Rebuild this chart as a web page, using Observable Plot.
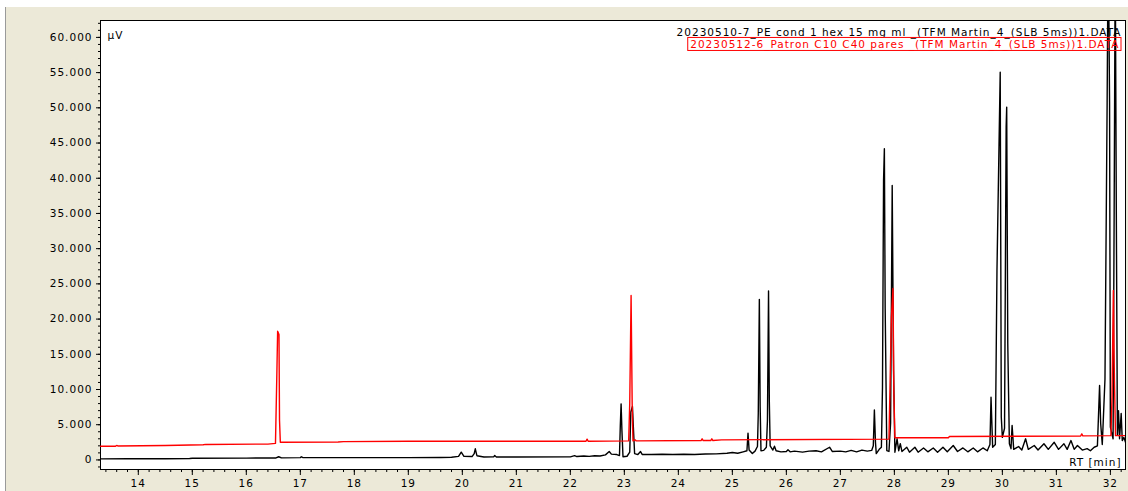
<!DOCTYPE html>
<html>
<head>
<meta charset="utf-8">
<script src="https://cdn.jsdelivr.net/npm/d3@7"></script>
<script src="https://cdn.jsdelivr.net/npm/@observablehq/plot@0.6"></script>
<style>
  html, body { margin: 0; padding: 0; width: 1128px; height: 491px; overflow: hidden; background: #ffffff; }
  #panel { position: absolute; left: 5px; top: 7px; right: 0; bottom: 0; background: #ECE9D8; border-left: 1px solid #9a9a9a; }
  #chart { position: absolute; left: 0; top: 0; }
</style>
</head>
<body>
<div id="panel"></div>
<div id="chart"></div>
<script>
// Sample chromatogram: 20230510-7 (black trace)
const sampleName = "20230510-7_PE cond 1 hex 15 mg ml _(TFM Martin_4_(SLB 5ms))1.DATA";
const sampleTime = [
  13.30, 13.80, 14.50, 14.95, 15.00, 16.00, 16.55, 16.60, 16.65, 17.00, 17.02, 17.05, 18.00, 19.00,
  19.60, 19.80, 19.93, 19.98, 20.03, 20.18, 20.22, 20.24, 20.27, 20.40, 20.58, 20.60, 20.63, 21.00,
  22.00, 22.08, 22.12, 22.25, 22.35, 22.45, 22.55, 22.65, 22.72, 22.76, 22.86, 22.91, 22.925, 22.94,
  22.955, 22.975, 23.05, 23.10, 23.12, 23.15, 23.165, 23.19, 23.25, 23.30, 23.33, 23.50, 23.70, 23.90,
  24.10, 24.30, 24.50, 24.70, 24.90, 25.00, 25.10, 25.20, 25.27, 25.29, 25.31, 25.37, 25.42, 25.465,
  25.48, 25.50, 25.515, 25.53, 25.58, 25.63, 25.65, 25.67, 25.685, 25.70, 25.75, 25.78, 25.81, 25.90,
  26.00, 26.03, 26.07, 26.15, 26.30, 26.42, 26.55, 26.65, 26.80, 26.85, 27.00, 27.10, 27.20, 27.30,
  27.40, 27.50, 27.58, 27.61, 27.63, 27.65, 27.665, 27.72, 27.76, 27.78, 27.80, 27.815, 27.83, 27.86,
  27.90, 27.93, 27.96, 27.985, 28.01, 28.05, 28.08, 28.11, 28.14, 28.23, 28.28, 28.38, 28.44, 28.54,
  28.62, 28.72, 28.80, 28.90, 28.98, 29.09, 29.17, 29.27, 29.36, 29.46, 29.54, 29.64, 29.72, 29.77,
  29.79, 29.82, 29.87, 29.90, 29.96, 29.98, 30.00, 30.04, 30.07, 30.08, 30.10, 30.13, 30.16, 30.18,
  30.21, 30.30, 30.36, 30.43, 30.48, 30.59, 30.66, 30.77, 30.85, 30.96, 31.04, 31.14, 31.20, 31.27,
  31.33, 31.39, 31.48, 31.57, 31.63, 31.70, 31.76, 31.80, 31.82, 31.85, 31.90, 31.94, 31.96, 31.985,
  32.00, 32.05, 32.07, 32.09, 32.11, 32.13, 32.15, 32.17, 32.20, 32.22, 32.25, 32.28
];
const sampleSignal = [
  150, 160, 170, 200, 230, 260, 280, 450, 290, 330, 450, 320, 320, 330,
  350, 380, 500, 1100, 500, 480, 900, 1580, 600, 420, 430, 620, 420, 420,
  430, 600, 480, 560, 500, 600, 560, 720, 1190, 820, 760, 620, 4800, 7960,
  4200, 450, 520, 1100, 6800, 7580, 5000, 900, 760, 1190, 780, 760, 800, 760,
  800, 780, 840, 860, 950, 1050, 950, 1150, 1300, 3800, 1400, 900, 1250, 1900,
  6600, 22800, 7500, 1300, 1350, 1800, 5600, 24000, 8200, 2000, 1400, 1950, 1300, 1150,
  1200, 1430, 1150, 1250, 1100, 1250, 1300, 1150, 1800, 1200, 1250, 1150, 1350, 1150,
  1400, 1250, 1350, 2000, 7100, 2500, 900, 1500, 1800, 10300, 39700, 44200, 21500, 1330,
  1200, 5200, 38970, 12700, 1100, 3000, 1300, 2300, 1200, 1800, 1100, 1800, 1100, 1700,
  1150, 1700, 1100, 1800, 1150, 2050, 1200, 1700, 1150, 1700, 1150, 1700, 1300, 2200,
  8900, 1800, 2200, 26900, 55050, 6070, 3200, 4500, 47260, 50100, 16500, 2300, 1600, 4900,
  1500, 1900, 1400, 3000, 1500, 2050, 1400, 2300, 1500, 2500, 1500, 2300, 1500, 2750,
  1500, 2050, 1400, 1600, 1300, 1800, 2000, 10560, 5200, 2200, 11500, 50800, 75000, 50800,
  4650, 3000, 35200, 72000, 35200, 3500, 7000, 3000, 6600, 2750, 3200, 2500
];

// Reference standard: 20230512-6, even n-alkanes C10–C40 (red trace)
const standardName = "20230512-6_Patron C10 C40 pares _(TFM Martin_4_(SLB 5ms))1.DATA";
const standardTime = [
  13.30, 13.58, 13.60, 13.62, 14.50, 15.20, 15.25, 16.40, 16.54, 16.565, 16.58, 16.605, 16.615, 16.63,
  17.70, 17.80, 19.00, 22.29, 22.31, 22.33, 23.08, 23.10, 23.125, 23.145, 23.16, 23.20, 23.22,
  24.42, 24.44, 24.46, 24.60, 24.62, 24.64, 24.80, 27.90, 27.945, 27.975, 27.99, 28.01, 29.00, 29.02,
  31.45, 31.47, 31.49, 32.01, 32.03, 32.055, 32.075, 32.095, 32.28
];
const standardSignal = [
  1950, 1950, 2050, 1980, 2050, 2150, 2200, 2250, 2350, 12000, 18280, 17800, 5600, 2500,
  2550, 2600, 2650, 2650, 2950, 2650, 2700, 8050, 23350, 8000, 2700, 2850, 2700,
  2750, 3000, 2750, 2750, 3000, 2750, 2850, 2950, 20300, 24350, 9850, 3140, 3150, 3320,
  3400, 3700, 3420, 3450, 8900, 24050, 11300, 3450, 3450
];

// Axis ticks
const timeTicks = d3.range(14, 33);
const timeMinorTicks = d3.range(13.4, 32.28, 0.2).map(d => +d.toFixed(2));
const signalTicks = d3.range(0, 60001, 5000);
const signalMinorTicks = d3.range(-1000, 62001, 1000);
const signalUnit = "µV";
const timeUnit = "RT [min]";

const sample = sampleTime.map((t, i) => ({t, v: sampleSignal[i]}));
const standard = standardTime.map((t, i) => ({t, v: standardSignal[i]}));

const fmt = d => d3.format(",")(d).replace(/,/g, ".");

const chart = Plot.plot({
  width: 1128,
  height: 491,
  marginLeft: 100,
  marginRight: 3,
  marginTop: 20,
  marginBottom: 22,
  style: {background: "transparent", fontFamily: "DejaVu Sans, sans-serif", fontSize: "10.5px", color: "#000", letterSpacing: "1px"},
  x: {domain: [13.30, 32.28], label: null},
  y: {domain: [-1360, 62400], label: null},
  marks: [
    Plot.frame({fill: "white", stroke: "#000", strokeWidth: 1}),
    Plot.axisX({ticks: timeMinorTicks, tickSize: 3, tickFormat: () => "", stroke: "#000"}),
    Plot.axisX({ticks: timeTicks, tickSize: 6, tickPadding: 4, tickFormat: d => d, stroke: "#000", fill: "#000"}),
    Plot.axisY({ticks: signalMinorTicks, tickSize: 2, tickFormat: () => "", stroke: "#000"}),
    Plot.axisY({ticks: signalTicks, tickSize: 4, tickPadding: 4, tickFormat: fmt, stroke: "#000", fill: "#000"}),
    Plot.line(sample, {x: "t", y: "v", stroke: "#000", strokeWidth: 1.4, clip: true}),
    Plot.line(standard, {x: "t", y: "v", stroke: "#ff0000", strokeWidth: 1.4, clip: true}),
    Plot.text([signalUnit], {frameAnchor: "top-left", dx: 7, dy: 11, textAnchor: "start", fill: "#000"}),
    Plot.text([timeUnit], {frameAnchor: "bottom-right", dx: -4, dy: -4, textAnchor: "end", fill: "#000"}),
    Plot.text([sampleName], {frameAnchor: "top-right", dx: -4, dy: 8, textAnchor: "end", fill: "#000"}),
    Plot.text([standardName], {frameAnchor: "top-right", dx: -6, dy: 20, textAnchor: "end", fill: "#ff0000"})
  ]
});

document.getElementById("chart").appendChild(chart);

// Red outline box around the standard's name, placed in root SVG coordinates
const label = [...chart.querySelectorAll("text")].find(e => e.textContent.startsWith("20230512"));
if (label) {
  const b = label.getBoundingClientRect();
  const s = chart.getBoundingClientRect();
  const rect = document.createElementNS("http://www.w3.org/2000/svg", "rect");
  rect.setAttribute("x", b.left - s.left - 2.5);
  rect.setAttribute("y", b.top - s.top - 0.5);
  rect.setAttribute("width", b.width + 4);
  rect.setAttribute("height", b.height);
  rect.setAttribute("fill", "none");
  rect.setAttribute("stroke", "#ff0000");
  rect.setAttribute("stroke-width", 1);
  chart.appendChild(rect);
}
</script>
</body>
</html>
